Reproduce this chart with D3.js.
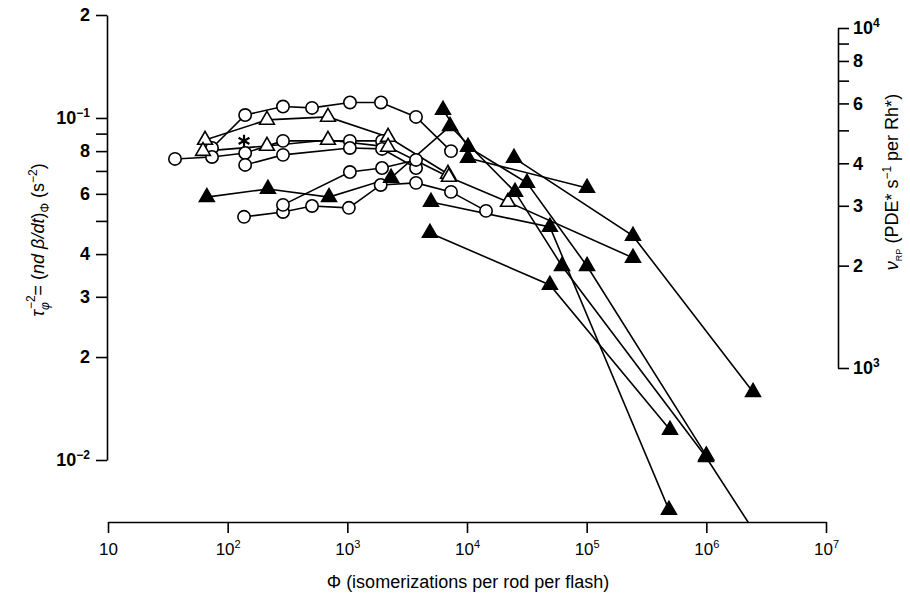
<!DOCTYPE html>
<meta charset="utf-8">
<style>
body{ margin:0; background:#fff; }
svg{ display:block; font-family:"Liberation Sans", Arial, sans-serif; }
.axis path, .axis line{ stroke:#000; stroke-width:1.6; }
.axis text{ fill:#000; }
</style>
<body>
<script src="https://d3js.org/d3.v7.min.js"></script>
<script>
// [phi, value, symbol]  o = open circle, t = open triangle, T = filled triangle
const topCircles   = [[74,0.0817,"o"],[140,0.102,"o"],[290,0.108,"o"],[507,0.107,"o"],[1052,0.111,"o"],[1911,0.111,"o"],[3748,0.1007,"o"],[7350,0.080,"o"]];
const midCircles   = [[36.3,0.0759,"o"],[74,0.0769,"o"],[140,0.079,"o"],[290,0.0857,"o"],[1050,0.0857,"o"],[1950,0.0857,"o"]];
const midCircles2  = [[140,0.0729,"o"],[290,0.078,"o"],[1050,0.0817,"o"],[1950,0.0812,"o"],[3750,0.0714,"o"]];
const lowCircles   = [[137,0.0514,"o"],[290,0.0531,"o"],[507,0.0553,"o"],[1030,0.0546,"o"],[1900,0.0637,"o"],[3750,0.0646,"o"],[7350,0.0608,"o"],[14420,0.0535,"o"]];
const lowCircles2  = [[290,0.0557,"o"],[1050,0.0695,"o"],[1950,0.0714,"o"],[3750,0.0754,"o"]];
const openTri1     = [[64.7,0.0862,"t"],[213,0.0987,"t"],[689,0.1007,"t"],[2190,0.088,"t"],[6935,0.0686,"t"]];
const openTri2     = [[62.2,0.080,"t"],[213,0.0828,"t"],[689,0.0862,"t"],[2190,0.0823,"t"],[7060,0.0672,"t"],[22000,0.0568,"t"],[243800,0.039,"T"]];
const filled1      = [[67,0.0587,"T"],[217,0.062,"T"],[703,0.0587,"T"],[2320,0.0668,"T"],[7210,0.0947,"T"],[25200,0.0608,"T"],[62200,0.0369,"T"],[993000,0.0102,"T"],[5000000,0.00426,"T"]];
const filled2      = [[6300,0.1055,"T"],[10200,0.0823,"T"],[31700,0.0646,"T"],[100700,0.0369,"T"],[1000000,0.0103,"T"]];
const filled3      = [[10200,0.0764,"T"],[100700,0.0624,"T"]];
const filled4      = [[24700,0.0764,"T"],[243800,0.0452,"T"],[2455000,0.0158,"T"]];
const filled5      = [[5000,0.0568,"T"],[49300,0.048,"T"],[487000,0.00715,"T"]];
const filled6      = [[4900,0.0461,"T"],[49300,0.0325,"T"],[497000,0.01225,"T"]];
const starPoint    = [137, 0.0857];

const allSeries = [topCircles, midCircles, midCircles2, lowCircles, lowCircles2, openTri1, openTri2,
                   filled1, filled2, filled3, filled4, filled5, filled6];

const xTicks = [10,1e2,1e3,1e4,1e5,1e6,1e7];
const xLabels = [["10",""],["10","2"],["10","3"],["10","4"],["10","5"],["10","6"],["10","7"]];
const leftTicks = [0.2,0.1,0.09,0.08,0.07,0.06,0.05,0.04,0.03,0.02,0.01];
const leftLabels = {0.2:["2",""],0.1:["10","\u22121"],0.08:["8",""],0.06:["6",""],0.04:["4",""],0.03:["3",""],0.02:["2",""],0.01:["10","\u22122"]};
const rightTicks = [10000,9000,8000,7000,6000,5000,4000,3000,2000,1000];
const rightLabels = {10000:["10","4"],8000:["8",""],6000:["6",""],4000:["4",""],3000:["3",""],2000:["2",""],1000:["10","3"]};

const width = 910, height = 603;
const svg = d3.select("body").append("svg").attr("width", width).attr("height", height);

const x = d3.scaleLog().domain([10,1e7]).range([108,826]);
const y = d3.scaleLog().domain([0.01,0.2]).range([460,15]);
const yR = d3.scaleLog().domain([1000,10000]).range([368,28]);

function supLabel(sel, lab, supSize){
    sel.text(null);
    sel.append("tspan").text(lab[0]);
    if(lab[1]) sel.append("tspan").attr("dy",-7).attr("font-size",supSize).text(lab[1]);
}

// bottom axis
const gx = svg.append("g").attr("class","axis").attr("transform","translate(0,522)")
    .call(d3.axisBottom(x).tickValues(xTicks).tickSize(11).tickSizeOuter(0).tickPadding(10));
gx.selectAll("text").attr("font-size",17).each(function(d,i){ supLabel(d3.select(this), xLabels[i], 11); });

// left axis
const gy = svg.append("g").attr("class","axis").attr("transform","translate(107,0)")
    .call(d3.axisLeft(y).tickValues(leftTicks).tickSize(11).tickSizeOuter(0).tickPadding(6));
gy.selectAll("text").attr("font-size",18).attr("font-weight","bold")
    .each(function(d){ supLabel(d3.select(this), leftLabels[d] || ["",""], 12); });

// right axis
const gr = svg.append("g").attr("class","axis").attr("transform","translate(838,0)")
    .call(d3.axisRight(yR).tickValues(rightTicks).tickSize(11).tickSizeOuter(0).tickPadding(4));
gr.selectAll("text").attr("font-size",18).attr("font-weight","bold")
    .each(function(d){ supLabel(d3.select(this), rightLabels[d] || ["",""], 12); });

// axis titles
svg.append("text").attr("x",468).attr("y",588).attr("text-anchor","middle").attr("font-size",18)
    .text("\u03a6 (isomerizations per rod per flash)");

const lt = svg.append("text").attr("transform","translate(44,240) rotate(-90)")
    .attr("text-anchor","middle").attr("font-size",18);
lt.append("tspan").attr("font-style","italic").text("\u03c4");
lt.append("tspan").attr("font-size",12).attr("dy",5).attr("font-style","italic").text("\u03c6");
lt.append("tspan").attr("font-size",12).attr("dx",-7).attr("dy",-14).text("\u22122");
lt.append("tspan").attr("dy",9).text("= (");
lt.append("tspan").attr("font-style","italic").text("nd \u03b2/dt");
lt.append("tspan").text(")");
lt.append("tspan").attr("font-size",12).attr("dy",5).text("\u03a6");
lt.append("tspan").attr("dy",-5).text(" (s");
lt.append("tspan").attr("font-size",12).attr("dy",-7).text("\u22122");
lt.append("tspan").attr("dy",7).text(")");

const rt = svg.append("text").attr("transform","translate(898,182) rotate(-90)")
    .attr("text-anchor","middle").attr("font-size",18);
rt.append("tspan").attr("font-style","italic").text("\u03bd");
rt.append("tspan").attr("font-size",9).attr("dy",4).text("RP");
rt.append("tspan").attr("dy",-4).text(" (PDE* s");
rt.append("tspan").attr("font-size",12).attr("dy",-7).text("\u22121");
rt.append("tspan").attr("dy",7).text(" per Rh*)");

// data
svg.append("clipPath").attr("id","plot").append("rect")
    .attr("x",100).attr("y",0).attr("width",740).attr("height",522);
const plot = svg.append("g").attr("clip-path","url(#plot)");

const line = d3.line().x(d => x(d[0])).y(d => y(d[1]));
plot.selectAll("path.series").data(allSeries).join("path")
    .attr("class","series").attr("d", line)
    .attr("fill","none").attr("stroke","#000").attr("stroke-width",1.6);

const tri = d3.symbol().type(d3.symbolTriangle).size(95);
const circ = d3.symbol().type(d3.symbolCircle).size(120);
const points = allSeries.flat();
plot.selectAll("path.mark").data(points).join("path")
    .attr("class","mark")
    .attr("transform", d => `translate(${x(d[0])},${y(d[1])})`)
    .attr("d", d => d[2] === "o" ? circ() : tri())
    .attr("fill", d => d[2] === "T" ? "#000" : "#fff")
    .attr("stroke","#000").attr("stroke-width",1.6);

plot.append("path")
    .attr("transform", `translate(${x(starPoint[0])},${y(starPoint[1])})`)
    .attr("d", d3.symbol().type(d3.symbolAsterisk).size(110)())
    .attr("fill","none").attr("stroke","#000").attr("stroke-width",2.2);
</script>
</body>
